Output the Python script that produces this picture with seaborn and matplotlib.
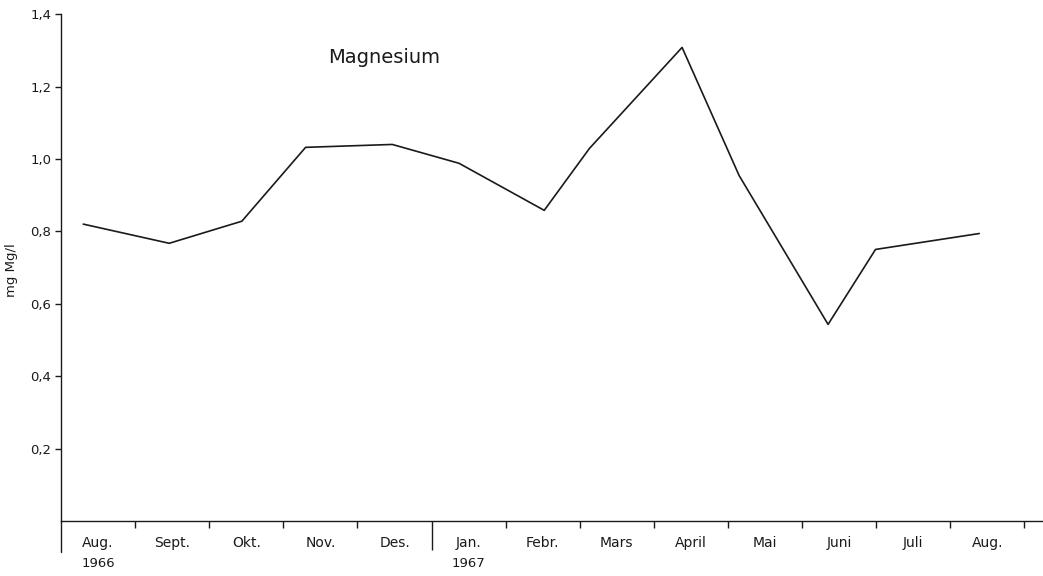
import matplotlib
matplotlib.use("Agg")
import matplotlib.pyplot as plt
import matplotlib.transforms as mtransforms
import numpy as np
import pandas as pd
import seaborn as sns

# Sampling positions (in months from 1 Aug 1966) and magnesium concentrations
sample_pos = [0.30, 1.46, 2.44, 3.30, 4.47, 5.37, 6.52, 7.13, 8.38, 9.15, 10.35, 10.99, 12.39]
mg_values = [0.82, 0.767, 0.828, 1.032, 1.040, 0.988, 0.858, 1.029, 1.308, 0.954, 0.543, 0.750, 0.794]

month_labels = ["Aug.", "Sept.", "Okt.", "Nov.", "Des.", "Jan.", "Febr.",
                "Mars", "April", "Mai", "Juni", "Juli", "Aug."]
year_labels = ["1966", "1967"]
year_months = [0, 5]
y_ticks = [0.2, 0.4, 0.6, 0.8, 1.0, 1.2, 1.4]
y_tick_labels = ["0,2", "0,4", "0,6", "0,8", "1,0", "1,2", "1,4"]

sns.set_theme(style="ticks")
plt.rcParams["font.family"] = ["DejaVu Sans"]

df = pd.DataFrame({"month": sample_pos, "mg": mg_values})

fig = plt.figure(figsize=(10.43, 5.76), dpi=100)
ax = fig.add_axes([0.0585, 0.0955, 0.9415, 0.880])

sns.lineplot(data=df, x="month", y="mg", ax=ax, color="#1a1a1a", linewidth=1.2)

ax.set_xlim(0, 13.25)
ax.set_ylim(0, 1.4)

for side in ("top", "right"):
    ax.spines[side].set_visible(False)
for side in ("left", "bottom"):
    ax.spines[side].set_linewidth(1.0)
    ax.spines[side].set_color("#1a1a1a")

# y axis
ax.set_yticks(y_ticks)
ax.set_yticklabels(y_tick_labels, fontsize=9.5, color="#1a1a1a")
ax.tick_params(axis="y", direction="out", length=4.5, width=1.0, pad=2.5, colors="#1a1a1a")

# x axis: month boundaries as major ticks, labels centred between them
n_months = len(month_labels)
ax.set_xticks(np.arange(1, n_months + 1))
ax.set_xticklabels([])
ax.set_xticks(np.arange(n_months) + 0.5, minor=True)
ax.set_xticklabels(month_labels, minor=True, fontsize=10, color="#1a1a1a")
ax.tick_params(axis="x", which="major", direction="out", length=5, width=1.0, colors="#1a1a1a")
ax.tick_params(axis="x", which="minor", length=0, pad=11)

# longer tick at the turn of the year
ax.xaxis.get_major_ticks()[4].tick1line.set_markersize(21)

# left axis line continues below the time axis
ax.plot([0, 0], [0, -0.085], color="#1a1a1a", linewidth=1.0, clip_on=False)

# year labels under the first month of each year
trans = mtransforms.blended_transform_factory(ax.transData, ax.transAxes)
for m, lab in zip(year_months, year_labels):
    ax.text(m + 0.5, -0.083, lab, transform=trans, ha="center", va="center",
            fontsize=9.5, color="#1a1a1a")

ax.set_xlabel("")
ax.set_ylabel("mg Mg/l", fontsize=9.5, color="#1a1a1a")
ax.yaxis.set_label_coords(-0.044, 0.495)

ax.text(0.329, 0.915, "Magnesium", transform=ax.transAxes, ha="center", va="center",
        fontsize=14, fontweight="medium", color="#1a1a1a")

fig.savefig("out.png", dpi=100)
